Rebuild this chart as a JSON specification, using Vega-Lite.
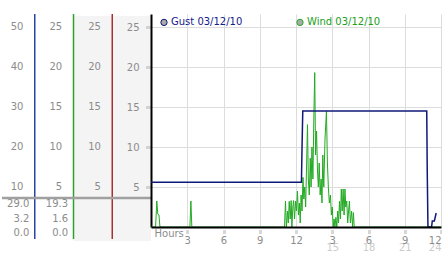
{
  "$schema": "https://vega.github.io/schema/vega-lite/v6.json",
  "padding": {"left": 0, "top": 13, "right": 0, "bottom": 0},
  "background": "white",
  "spacing": 0,
  "bounds": "flush",
  "config": {"font": "DejaVu Sans", "view": {"stroke": null}},
  "resolve": {"scale": {"color": "independent"}, "legend": {"color": "independent"}},
  "hconcat": [
    {
      "width": 149,
      "height": 227,
      "layer": [
        {
          "data": {"values": [{"col": "c3"}, {"col": "c4"}]},
          "mark": {"type": "rect", "color": "#f4f4f4"},
          "encoding": {
            "x": {"field": "col", "type": "nominal", "scale": {"domain": ["c1", "c2", "c3", "c4"], "range": [-6, 149], "paddingInner": 0, "paddingOuter": 0}, "axis": null},
            "y": {"datum": 26.375, "type": "quantitative", "scale": {"domain": [-1.75, 26.625], "nice": false, "zero": false}, "axis": null},
            "y2": {"datum": -1.75}
          }
        },
        {
          "data": {"values": [{"col": "c1"}]},
          "mark": {"type": "rule", "strokeWidth": 1.5, "color": "#2844a4"},
          "encoding": {
            "x": {"field": "col", "type": "nominal", "bandPosition": 1},
            "y": {"datum": 26.625, "type": "quantitative", "scale": {"domain": [-1.75, 26.625], "nice": false, "zero": false}, "axis": null},
            "y2": {"datum": -1.5}
          }
        },
        {
          "data": {"values": [{"col": "c2"}]},
          "mark": {"type": "rule", "strokeWidth": 1.5, "color": "#2fa02f"},
          "encoding": {
            "x": {"field": "col", "type": "nominal", "bandPosition": 1},
            "y": {"datum": 26.625, "type": "quantitative", "scale": {"domain": [-1.75, 26.625], "nice": false, "zero": false}, "axis": null},
            "y2": {"datum": -1.5}
          }
        },
        {
          "data": {"values": [{"col": "c3"}]},
          "mark": {"type": "rule", "strokeWidth": 1.5, "color": "#a83030"},
          "encoding": {
            "x": {"field": "col", "type": "nominal", "bandPosition": 1},
            "y": {"datum": 26.625, "type": "quantitative", "scale": {"domain": [-1.75, 26.625], "nice": false, "zero": false}, "axis": null},
            "y2": {"datum": -1.5}
          }
        },
        {
          "data": {"values": [{"line": "separator"}]},
          "mark": {"type": "rule", "color": "#a0a0a0", "strokeWidth": 2.5},
          "encoding": {
            "y": {"datum": 3.625, "type": "quantitative", "scale": {"domain": [-1.75, 26.625], "nice": false, "zero": false}, "axis": null}
          }
        },
        {
          "data": {"values": [
            {"col": "c1", "v": 25, "label": "50"}, {"col": "c1", "v": 20, "label": "40"}, {"col": "c1", "v": 15, "label": "30"}, {"col": "c1", "v": 10, "label": "20"}, {"col": "c1", "v": 5, "label": "10"},
            {"col": "c2", "v": 25, "label": "25"}, {"col": "c2", "v": 20, "label": "20"}, {"col": "c2", "v": 15, "label": "15"}, {"col": "c2", "v": 10, "label": "10"}, {"col": "c2", "v": 5, "label": "5"},
            {"col": "c3", "v": 25, "label": "25"}, {"col": "c3", "v": 20, "label": "20"}, {"col": "c3", "v": 15, "label": "15"}, {"col": "c3", "v": 10, "label": "10"}, {"col": "c3", "v": 5, "label": "5"}
          ]},
          "mark": {"type": "text", "align": "right", "baseline": "middle", "dx": 8, "fontSize": 10, "color": "#8c8c8c"},
          "encoding": {
            "x": {"field": "col", "type": "nominal"},
            "y": {"field": "v", "type": "quantitative", "scale": {"domain": [-1.75, 26.625], "nice": false, "zero": false}, "axis": null},
            "text": {"field": "label"}
          }
        },
        {
          "data": {"values": [
            {"col": "c1", "stat": "max", "label": "29.0"}, {"col": "c1", "stat": "avg", "label": "3.2"}, {"col": "c1", "stat": "min", "label": "0.0"},
            {"col": "c2", "stat": "max", "label": "19.3"}, {"col": "c2", "stat": "avg", "label": "1.6"}, {"col": "c2", "stat": "min", "label": "0.0"}
          ]},
          "mark": {"type": "text", "align": "right", "baseline": "middle", "dx": 14, "fontSize": 10, "color": "#8c8c8c"},
          "encoding": {
            "x": {"field": "col", "type": "nominal"},
            "y": {"field": "stat", "type": "nominal", "scale": {"type": "point", "domain": ["max", "avg", "min"], "range": [190, 219], "padding": 0}, "axis": null},
            "text": {"field": "label"}
          }
        }
      ],
      "resolve": {"scale": {"y": "independent"}}
    },
    {
      "width": 290,
      "height": 213,
      "data": {"values": [
        {"h": 0, "v": 0, "s": "Wind 03/12/10"}, {"h": 0.38, "v": 0, "s": "Wind 03/12/10"}, {"h": 0.48, "v": 3.25, "s": "Wind 03/12/10"}, {"h": 0.56, "v": 1.6, "s": "Wind 03/12/10"}, {"h": 0.66, "v": 1.5, "s": "Wind 03/12/10"}, {"h": 0.74, "v": 0, "s": "Wind 03/12/10"},
        {"h": 3.22, "v": 0, "s": "Wind 03/12/10"}, {"h": 3.3, "v": 3.25, "s": "Wind 03/12/10"}, {"h": 3.38, "v": 0, "s": "Wind 03/12/10"},
        {"h": 11.05, "v": 0, "s": "Wind 03/12/10"}, {"h": 11.13, "v": 3.25, "s": "Wind 03/12/10"}, {"h": 11.2, "v": 0, "s": "Wind 03/12/10"}, {"h": 11.3, "v": 2, "s": "Wind 03/12/10"}, {"h": 11.36, "v": 0.5, "s": "Wind 03/12/10"}, {"h": 11.44, "v": 3.2, "s": "Wind 03/12/10"}, {"h": 11.52, "v": 1, "s": "Wind 03/12/10"}, {"h": 11.6, "v": 3.3, "s": "Wind 03/12/10"}, {"h": 11.66, "v": 0, "s": "Wind 03/12/10"}, {"h": 11.74, "v": 2.5, "s": "Wind 03/12/10"}, {"h": 11.8, "v": 3.3, "s": "Wind 03/12/10"}, {"h": 11.88, "v": 1, "s": "Wind 03/12/10"}, {"h": 11.96, "v": 3.25, "s": "Wind 03/12/10"},
        {"h": 12.04, "v": 2, "s": "Wind 03/12/10"}, {"h": 12.12, "v": 4.5, "s": "Wind 03/12/10"}, {"h": 12.2, "v": 1.5, "s": "Wind 03/12/10"}, {"h": 12.28, "v": 3, "s": "Wind 03/12/10"}, {"h": 12.35, "v": 0.5, "s": "Wind 03/12/10"}, {"h": 12.42, "v": 4, "s": "Wind 03/12/10"}, {"h": 12.5, "v": 2, "s": "Wind 03/12/10"}, {"h": 12.58, "v": 6.2, "s": "Wind 03/12/10"}, {"h": 12.65, "v": 3.5, "s": "Wind 03/12/10"}, {"h": 12.72, "v": 5, "s": "Wind 03/12/10"}, {"h": 12.8, "v": 2.5, "s": "Wind 03/12/10"}, {"h": 12.88, "v": 8, "s": "Wind 03/12/10"}, {"h": 12.95, "v": 12.8, "s": "Wind 03/12/10"},
        {"h": 13.02, "v": 6, "s": "Wind 03/12/10"}, {"h": 13.1, "v": 4, "s": "Wind 03/12/10"}, {"h": 13.18, "v": 8.6, "s": "Wind 03/12/10"}, {"h": 13.25, "v": 5, "s": "Wind 03/12/10"}, {"h": 13.32, "v": 10, "s": "Wind 03/12/10"}, {"h": 13.4, "v": 6, "s": "Wind 03/12/10"}, {"h": 13.48, "v": 14, "s": "Wind 03/12/10"}, {"h": 13.55, "v": 19.3, "s": "Wind 03/12/10"}, {"h": 13.62, "v": 9, "s": "Wind 03/12/10"}, {"h": 13.7, "v": 12, "s": "Wind 03/12/10"}, {"h": 13.78, "v": 7, "s": "Wind 03/12/10"}, {"h": 13.85, "v": 5, "s": "Wind 03/12/10"}, {"h": 13.92, "v": 8, "s": "Wind 03/12/10"},
        {"h": 14.0, "v": 4, "s": "Wind 03/12/10"}, {"h": 14.08, "v": 6, "s": "Wind 03/12/10"}, {"h": 14.15, "v": 3, "s": "Wind 03/12/10"}, {"h": 14.22, "v": 9, "s": "Wind 03/12/10"}, {"h": 14.3, "v": 5, "s": "Wind 03/12/10"}, {"h": 14.4, "v": 11, "s": "Wind 03/12/10"}, {"h": 14.52, "v": 14.5, "s": "Wind 03/12/10"}, {"h": 14.6, "v": 8, "s": "Wind 03/12/10"}, {"h": 14.68, "v": 4.9, "s": "Wind 03/12/10"}, {"h": 14.76, "v": 3, "s": "Wind 03/12/10"}, {"h": 14.85, "v": 4, "s": "Wind 03/12/10"}, {"h": 14.93, "v": 1.5, "s": "Wind 03/12/10"},
        {"h": 15.0, "v": 2.5, "s": "Wind 03/12/10"}, {"h": 15.08, "v": 0, "s": "Wind 03/12/10"}, {"h": 15.15, "v": 1, "s": "Wind 03/12/10"}, {"h": 15.22, "v": 0, "s": "Wind 03/12/10"}, {"h": 15.3, "v": 1.2, "s": "Wind 03/12/10"}, {"h": 15.38, "v": 0, "s": "Wind 03/12/10"}, {"h": 15.45, "v": 2, "s": "Wind 03/12/10"}, {"h": 15.52, "v": 0.5, "s": "Wind 03/12/10"}, {"h": 15.6, "v": 3.2, "s": "Wind 03/12/10"}, {"h": 15.68, "v": 1, "s": "Wind 03/12/10"}, {"h": 15.75, "v": 4.75, "s": "Wind 03/12/10"}, {"h": 15.82, "v": 2, "s": "Wind 03/12/10"}, {"h": 15.9, "v": 4.75, "s": "Wind 03/12/10"}, {"h": 15.98, "v": 1.5, "s": "Wind 03/12/10"},
        {"h": 16.05, "v": 4.75, "s": "Wind 03/12/10"}, {"h": 16.12, "v": 2.5, "s": "Wind 03/12/10"}, {"h": 16.2, "v": 3.25, "s": "Wind 03/12/10"}, {"h": 16.28, "v": 0.5, "s": "Wind 03/12/10"}, {"h": 16.35, "v": 2, "s": "Wind 03/12/10"}, {"h": 16.42, "v": 3.25, "s": "Wind 03/12/10"}, {"h": 16.5, "v": 0.5, "s": "Wind 03/12/10"}, {"h": 16.6, "v": 2, "s": "Wind 03/12/10"}, {"h": 16.68, "v": 0, "s": "Wind 03/12/10"}, {"h": 16.75, "v": 1.8, "s": "Wind 03/12/10"}, {"h": 16.82, "v": 0, "s": "Wind 03/12/10"},
        {"h": 24, "v": 0, "s": "Wind 03/12/10"},
        {"h": 0, "v": 5.6, "s": "Gust 03/12/10"}, {"h": 12.45, "v": 5.6, "s": "Gust 03/12/10"}, {"h": 12.5, "v": 10, "s": "Gust 03/12/10"}, {"h": 12.56, "v": 14.5, "s": "Gust 03/12/10"}, {"h": 22.82, "v": 14.5, "s": "Gust 03/12/10"}, {"h": 22.86, "v": 7.2, "s": "Gust 03/12/10"}, {"h": 22.92, "v": 0, "s": "Gust 03/12/10"}, {"h": 23.22, "v": 0, "s": "Gust 03/12/10"}, {"h": 23.28, "v": 0.75, "s": "Gust 03/12/10"}, {"h": 23.45, "v": 0.75, "s": "Gust 03/12/10"}, {"h": 23.6, "v": 1.75, "s": "Gust 03/12/10"}
      ]},
      "layer": [
        {
          "transform": [{"filter": "datum.s == 'Wind 03/12/10'"}],
          "mark": {"type": "line", "strokeWidth": 1},
          "encoding": {
            "x": {"field": "h", "type": "quantitative", "scale": {"domain": [0, 24], "nice": false, "zero": false},
              "axis": {"orient": "bottom", "title": null, "values": [0, 3, 6, 9, 12, 15, 18, 21, 24], "grid": false,
                "labelExpr": "datum.value == 0 ? 'Hours' : (datum.value % 12 == 0 ? '12' : '' + (datum.value % 12))",
                "labelOverlap": false, "labelColor": "#8c8c8c", "labelFontSize": 10,
                "labelPadding": {"condition": {"test": "datum.value == 0", "value": -7}, "value": 0},
                "labelOffset": {"condition": {"test": "datum.value == 0", "value": 3}, "value": 0},
                "domainColor": "#000000", "domainWidth": 2,
                "tickColor": {"condition": {"test": "datum.value == 0", "value": "transparent"}, "value": "#b0b0b0"},
                "tickSize": 8, "tickWidth": 3, "tickDash": [0, 3, 1, 1, 1, 1], "zindex": 1}},
            "y": {"field": "v", "type": "quantitative", "scale": {"domain": [0, 26.625], "nice": false, "zero": false},
              "axis": {"title": null, "values": [5, 10, 15, 20, 25], "grid": true, "gridColor": "#dcdcdc", "domainColor": "#000000", "domainWidth": 2, "tickColor": "#b0b0b0", "tickSize": 5, "tickWidth": 3, "tickDash": [1, 1], "labelColor": "#8c8c8c", "labelFontSize": 10, "labelPadding": 7}},
            "color": {"field": "s", "type": "nominal", "scale": {"domain": ["Gust 03/12/10", "Wind 03/12/10"], "range": ["#10187a", "#22aa22"]},
              "legend": {"title": null, "orient": "top-left", "direction": "horizontal", "offset": 3, "padding": 0, "symbolOffset": 5, "columnPadding": 47, "labelFontSize": 10, "symbolType": "circle", "symbolSize": 40, "labelOffset": 2,
                "symbolFillColor": "#aaaaaa", "symbolStrokeColor": "#909090", "symbolStrokeWidth": 1,
                "encode": {"symbols": {"update": {"fill": {"value": "#aaaaaa"}, "stroke": {"value": "#909090"}, "strokeWidth": {"value": 1}}},
                           "labels": {"update": {"fill": {"signal": "datum.value === 'Gust 03/12/10' ? '#14208a' : '#20a020'"}}}}}}
          }
        },
        {
          "transform": [{"filter": "datum.s == 'Gust 03/12/10'"}],
          "mark": {"type": "line", "strokeWidth": 1.5},
          "encoding": {
            "x": {"field": "h", "type": "quantitative", "scale": {"domain": [0, 24], "nice": false, "zero": false},
              "axis": {"orient": "bottom", "title": null, "values": [3, 6, 9, 12, 15, 18, 21, 24], "grid": true, "gridColor": "#dcdcdc", "domain": false, "ticks": false,
                "labelExpr": "datum.value >= 15 ? '' + datum.value : ''", "labelOverlap": false, "labelColor": "#cccccc", "labelFontSize": 10, "labelPadding": 15, "zindex": 0}},
            "y": {"field": "v", "type": "quantitative", "scale": {"domain": [0, 26.625], "nice": false, "zero": false},
              "axis": {"title": null, "values": [5, 10, 15, 20, 25], "grid": true, "gridColor": "#dcdcdc", "domainColor": "#000000", "domainWidth": 2, "tickColor": "#b0b0b0", "tickSize": 5, "tickWidth": 3, "tickDash": [1, 1], "labelColor": "#8c8c8c", "labelFontSize": 10, "labelPadding": 7}},
            "color": {"field": "s", "type": "nominal", "scale": {"domain": ["Gust 03/12/10", "Wind 03/12/10"], "range": ["#10187a", "#22aa22"]},
              "legend": {"title": null, "orient": "top-left", "direction": "horizontal", "offset": 3, "padding": 0, "symbolOffset": 5, "columnPadding": 47, "labelFontSize": 10, "symbolType": "circle", "symbolSize": 40, "labelOffset": 2,
                "symbolFillColor": "#aaaaaa", "symbolStrokeColor": "#909090", "symbolStrokeWidth": 1,
                "encode": {"symbols": {"update": {"fill": {"value": "#aaaaaa"}, "stroke": {"value": "#909090"}, "strokeWidth": {"value": 1}}},
                           "labels": {"update": {"fill": {"signal": "datum.value === 'Gust 03/12/10' ? '#14208a' : '#20a020'"}}}}}}
          }
        }
      ],
      "resolve": {"axis": {"x": "independent"}}
    }
  ]
}
